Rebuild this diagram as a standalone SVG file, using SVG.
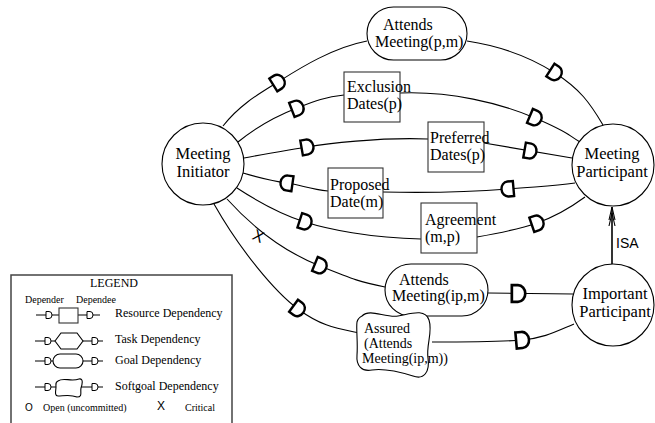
<svg xmlns="http://www.w3.org/2000/svg" xmlns:xlink="http://www.w3.org/1999/xlink" width="655" height="423" viewBox="0 0 655 423">
<style>
.ln{fill:none;stroke:#000;stroke-width:1.1}
.nd{fill:#fff;stroke:#000;stroke-width:1.1}
.bx{fill:#fff;stroke:#333;stroke-width:1.1}
.t{font-family:"Liberation Serif","Times New Roman",serif;font-size:16px;fill:#000}
.ta{font-family:"Liberation Serif","Times New Roman",serif;font-size:16.5px;fill:#000;text-anchor:middle}
.ts{font-family:"Liberation Serif","Times New Roman",serif;font-size:14px;fill:#000}
.lg{font-family:"Liberation Serif","Times New Roman",serif;font-size:12px;fill:#000}
.lgs{font-family:"Liberation Serif","Times New Roman",serif;font-size:10px;fill:#000}
.sans{font-family:"Liberation Sans",Arial,sans-serif;fill:#000}
</style>
<defs>
<path id="D" d="M-5.5,-7.5 L0,-7.5 A6.5,7.5 0 0 1 0,7.5 L-5.5,7.5 Z" fill="#fff" stroke="#000" stroke-width="2.4"/>
<path id="d" d="M-3,-3.5 L0,-3.5 A3,3.5 0 0 1 0,3.5 L-3,3.5 Z" fill="#fff" stroke="#000" stroke-width="1"/>
</defs>
<rect width="655" height="423" fill="#fff"/>

<g id="connectors">
<path class="ln" d="M223,126 C240,104 262,92 278,82 S 330,48 367,41"/>
<path class="ln" d="M467,41 C500,46 530,57 555,73 S 590,103 603,125"/>
<path class="ln" d="M238,142 C260,124 279,115 297,108 S 325,97 344,95"/>
<path class="ln" d="M400,93 C450,91 500,103 535,118 S 565,133 580,142"/>
<path class="ln" d="M244,158 C270,153 290,150 307,147 S 380,137 428,139"/>
<path class="ln" d="M484,143 L572,158"/>
<path class="ln" d="M243,173 C260,178 273,181 287,183 S 310,189 328,191"/>
<path class="ln" d="M383,192 C430,193 470,192 508,189 S 555,186 575,183"/>
<path class="ln" d="M237,188 C260,203 283,215 305,222 S 370,238 421,239"/>
<path class="ln" d="M477,237 C500,233 520,229 537,223 S 570,208 585,197"/>
<path class="ln" d="M227,199 C255,230 285,252 320,266 S 360,282 385,287"/>
<path class="ln" d="M488,293 L573,294"/>
<path class="ln" d="M214,204 C240,250 275,292 298,309 S 335,328 359,333"/>
<path class="ln" d="M432,342 C470,342 500,342 522,340 S 555,332 574,324"/>
<use xlink:href="#D" transform="translate(278,82) rotate(-32)"/>
<use xlink:href="#D" transform="translate(555,73) rotate(33)"/>
<use xlink:href="#D" transform="translate(297,108) rotate(-21)"/>
<use xlink:href="#D" transform="translate(535,118) rotate(23)"/>
<use xlink:href="#D" transform="translate(307,147) rotate(-10)"/>
<use xlink:href="#D" transform="translate(530,151) rotate(10)"/>
<use xlink:href="#D" transform="translate(287,183) rotate(188)"/>
<use xlink:href="#D" transform="translate(508,189) rotate(175)"/>
<use xlink:href="#D" transform="translate(305,222) rotate(18)"/>
<use xlink:href="#D" transform="translate(537,223) rotate(-19)"/>
<use xlink:href="#D" transform="translate(320,266) rotate(22)"/>
<use xlink:href="#D" transform="translate(518,293.5) scale(1.12)"/>
<use xlink:href="#D" transform="translate(298,309) rotate(36)"/>
<use xlink:href="#D" transform="translate(522,340) rotate(-5) scale(1.08)"/>
<text class="sans" font-size="16" text-anchor="middle" transform="translate(256,241) rotate(25)">X</text>
<line x1="612" y1="264" x2="612" y2="207" stroke="#000" stroke-width="1.6"/>
<path class="ln" d="M609,220 L612,207 L615,220 M609,226 L612,213 L615,226" stroke-width="1.3"/>
<text class="sans" x="616" y="248" font-size="14">ISA</text>
</g>

<g id="meeting-initiator">
<circle class="nd" cx="203" cy="164" r="41"/>
<text class="ta" x="203" y="159">Meeting</text>
<text class="ta" x="203" y="177">Initiator</text>
</g>

<g id="meeting-participant">
<circle class="nd" cx="613" cy="165" r="41"/>
<text class="ta" x="612" y="159">Meeting</text>
<text class="ta" x="612" y="177">Participant</text>
</g>

<g id="important-participant">
<circle class="nd" cx="613" cy="305" r="41"/>
<text class="ta" x="615" y="299">Important</text>
<text class="ta" x="615" y="317">Participant</text>
</g>

<g id="attends-meeting-pm">
<rect class="nd" x="367" y="7" width="100" height="53" rx="26.5"/>
<text class="t" x="383" y="30">Attends</text>
<text class="t" x="375" y="47">Meeting(p,m)</text>
</g>

<g id="exclusion-dates">
<rect class="bx" x="344" y="72" width="56" height="50"/>
<text class="t" x="347" y="92">Exclusion</text>
<text class="t" x="347" y="109">Dates(p)</text>
</g>

<g id="preferred-dates">
<rect class="bx" x="428" y="122" width="56" height="50"/>
<text class="t" x="430" y="143">Preferred</text>
<text class="t" x="430" y="160">Dates(p)</text>
</g>

<g id="proposed-date">
<rect class="bx" x="328" y="168" width="55" height="50"/>
<text class="t" x="330" y="190">Proposed</text>
<text class="t" x="330" y="207">Date(m)</text>
</g>

<g id="agreement">
<rect class="bx" x="421" y="203" width="56" height="50"/>
<text class="t" x="425" y="225">Agreement</text>
<text class="t" x="425" y="242">(m,p)</text>
</g>

<g id="attends-meeting-ipm">
<rect class="nd" x="385" y="264" width="103" height="52" rx="26"/>
<text class="t" x="399" y="285">Attends</text>
<text class="t" x="392" y="301">Meeting(ip,m)</text>
</g>

<g id="assured-softgoal">
<path class="nd" d="M362,316 C370,308 385,318 398,316 C410,314 425,308 429,320 C433,332 426,345 428,358 C430,372 424,380 413,376 C400,372 385,368 372,370 C362,372 356,366 357,355 C358,343 356,328 357,322 C358,318 360,317 362,316 Z"/>
<text class="ts" x="364" y="333">Assured</text>
<text class="ts" x="364" y="348">(Attends</text>
<text class="ts" x="362" y="363">Meeting(ip,m))</text>
</g>

<g id="legend">
<path d="M11,424 L11,275 L232,275 L232,424" fill="none" stroke="#444" stroke-width="1.5"/>
<text class="lg" x="114" y="287" text-anchor="middle" font-size="11">LEGEND</text>
<text class="lgs" x="25" y="303" font-size="11">Depender</text>
<text class="lgs" x="76" y="303" font-size="11">Dependee</text>
<path class="ln" d="M36,315 L59,315 M78,315 L100,315" stroke-width="1"/>
<rect class="bx" x="59" y="308" width="19" height="15" stroke-width="1"/>
<use xlink:href="#d" transform="translate(49,315)"/>
<use xlink:href="#d" transform="translate(90,315)"/>
<text class="lg" x="115" y="317">Resource Dependency</text>
<path class="ln" d="M35,341 L55,341 M83,341 L103,341" stroke-width="1"/>
<polygon class="nd" points="55,341 61,333 77,333 83,341 77,349 61,349" stroke-width="1"/>
<use xlink:href="#d" transform="translate(48,341)"/>
<use xlink:href="#d" transform="translate(95,341)"/>
<text class="lg" x="115" y="343">Task Dependency</text>
<path class="ln" d="M35,361 L53,361 M83,361 L103,361" stroke-width="1"/>
<rect class="nd" x="53" y="354" width="30" height="14" rx="7" stroke-width="1"/>
<use xlink:href="#d" transform="translate(48,361)"/>
<use xlink:href="#d" transform="translate(95,361)"/>
<text class="lg" x="115" y="364">Goal Dependency</text>
<path class="ln" d="M35,387 L56,387 M81,387 L103,387" stroke-width="1"/>
<path class="nd" stroke-width="1" d="M58,381 C63,377 71,382 79,379 C84,378 82,385 81,388 C80,392 83,397 77,397 C70,394 63,396 58,396 C54,396 56,390 56,387 C56,384 55,382 58,381 Z"/>
<use xlink:href="#d" transform="translate(48,387)"/>
<use xlink:href="#d" transform="translate(95,387)"/>
<text class="lg" x="115" y="390">Softgoal Dependency</text>
<text class="sans" x="25" y="411" font-size="10">O</text>
<text class="lgs" x="43" y="411">Open (uncommitted)</text>
<text class="sans" x="157" y="410" font-size="12">X</text>
<text class="lgs" x="185" y="411">Critical</text>
</g>
</svg>
